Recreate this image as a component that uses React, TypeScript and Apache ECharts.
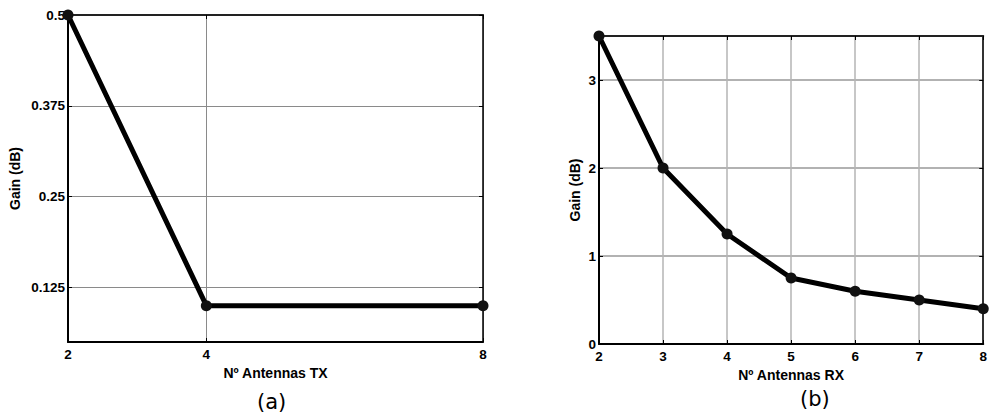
import React, { useEffect, useRef } from "react";
import * as echarts from "echarts";

const txAntennas = [2, 4, 8];
const txGain = [0.5, 0.1, 0.1];
const txXTicks = [2, 4, 8];
const txYTicks = [0.125, 0.25, 0.375, 0.5];

const rxAntennas = [2, 3, 4, 5, 6, 7, 8];
const rxGain = [3.5, 2.0, 1.25, 0.75, 0.6, 0.5, 0.4];
const rxXTicks = [2, 3, 4, 5, 6, 7, 8];
const rxYTicks = [0, 1, 2, 3];

const FONT = "'Liberation Sans', Arial, sans-serif";

export default function App() {
  const ref = useRef<HTMLDivElement>(null);
  useEffect(() => {
    if (!ref.current) return;
    const chart = echarts.init(ref.current, null, { renderer: "svg" });
    const labelStyle = { fontFamily: FONT, fontWeight: "bold" as const, fontSize: 13.5, color: "#000" };
    const nameStyle = { fontFamily: FONT, fontWeight: "bold" as const, fontSize: 14, color: "#000" };
    const mkX = (grid: number, min: number, max: number, ticks: number[], name: string, gridColor: string, gridWidth: number) => [
      {
        type: "value", gridIndex: grid, min, max, position: "bottom",
        name, nameLocation: "middle", nameGap: 21,
        nameTextStyle: { ...nameStyle },
        axisLine: { onZero: false, lineStyle: { color: "#000", width: 2 } },
        axisTick: { inside: true, length: 4, customValues: ticks, lineStyle: { color: "#000" } },
        axisLabel: { customValues: ticks, margin: 5, ...labelStyle },
        splitLine: { show: true, lineStyle: { color: gridColor, width: gridWidth } },
      },
      {
        type: "value", gridIndex: grid, min, max, position: "top",
        axisLine: { onZero: false, lineStyle: { color: "#222", width: 2 } },
        axisTick: { inside: true, length: 4, customValues: ticks, lineStyle: { color: "#000" } },
        axisLabel: { show: false },
        splitLine: { show: false },
      },
    ];
    const mkY = (grid: number, min: number, max: number, ticks: number[], gap: number, gridColor: string, gridWidth: number) => [
      {
        type: "value", gridIndex: grid, min, max, position: "left",
        name: "Gain (dB)", nameLocation: "middle", nameGap: gap,
        nameTextStyle: { ...nameStyle },
        axisLine: { onZero: false, lineStyle: { color: "#000", width: 2 } },
        axisTick: { inside: true, length: 4, customValues: ticks, lineStyle: { color: "#000" } },
        axisLabel: { customValues: ticks, margin: 3, ...labelStyle, formatter: (v: number) => String(v) },
        splitLine: { show: true, lineStyle: { color: gridColor, width: gridWidth } },
      },
      {
        type: "value", gridIndex: grid, min, max, position: "right",
        axisLine: { onZero: false, lineStyle: { color: "#000", width: 1.5 } },
        axisTick: { inside: true, length: 4, customValues: ticks, lineStyle: { color: "#000" } },
        axisLabel: { show: false },
        splitLine: { show: false },
      },
    ];
    const lineSeries = (xi: number, yi: number, xs: number[], ys: number[]) => ({
      type: "line",
      xAxisIndex: xi,
      yAxisIndex: yi,
      data: xs.map((x, i) => [x, ys[i]]),
      symbol: "circle",
      symbolSize: 11,
      showSymbol: true,
      lineStyle: { color: "#000", width: 5 },
      itemStyle: { color: "#111" },
      z: 5,
    });
    chart.setOption({
      animation: false,
      backgroundColor: "#fff",
      grid: [
        { left: 68, top: 15, width: 415, height: 327 },
        { left: 599, top: 36, width: 390, height: 308 },
      ],
      xAxis: [
        ...mkX(0, 2, 8, txXTicks, "Nº Antennas TX", "#8a8a8a", 1),
        ...mkX(1, 2, 8, rxXTicks, "Nº Antennas RX", "#b5b5b5", 1.5),
      ],
      yAxis: [
        ...mkY(0, 0.05, 0.5, txYTicks, 46, "#8a8a8a", 1),
        ...mkY(1, 0, 3.5, rxYTicks, 17, "#999", 1.5),
      ],
      series: [
        lineSeries(0, 0, txAntennas, txGain),
        lineSeries(2, 2, rxAntennas, rxGain),
      ],
      graphic: [
        { type: "text", left: 257, top: 391, style: { text: "(a)", font: "21px 'DejaVu Sans', Verdana, sans-serif", fill: "#000" } },
        { type: "text", left: 800, top: 388, style: { text: "(b)", font: "21px 'DejaVu Sans', Verdana, sans-serif", fill: "#000" } },
      ],
    });
    return () => chart.dispose();
  }, []);
  return <div ref={ref} style={{ position: "fixed", left: 0, top: 0, width: 990, height: 419 }} />;
}
